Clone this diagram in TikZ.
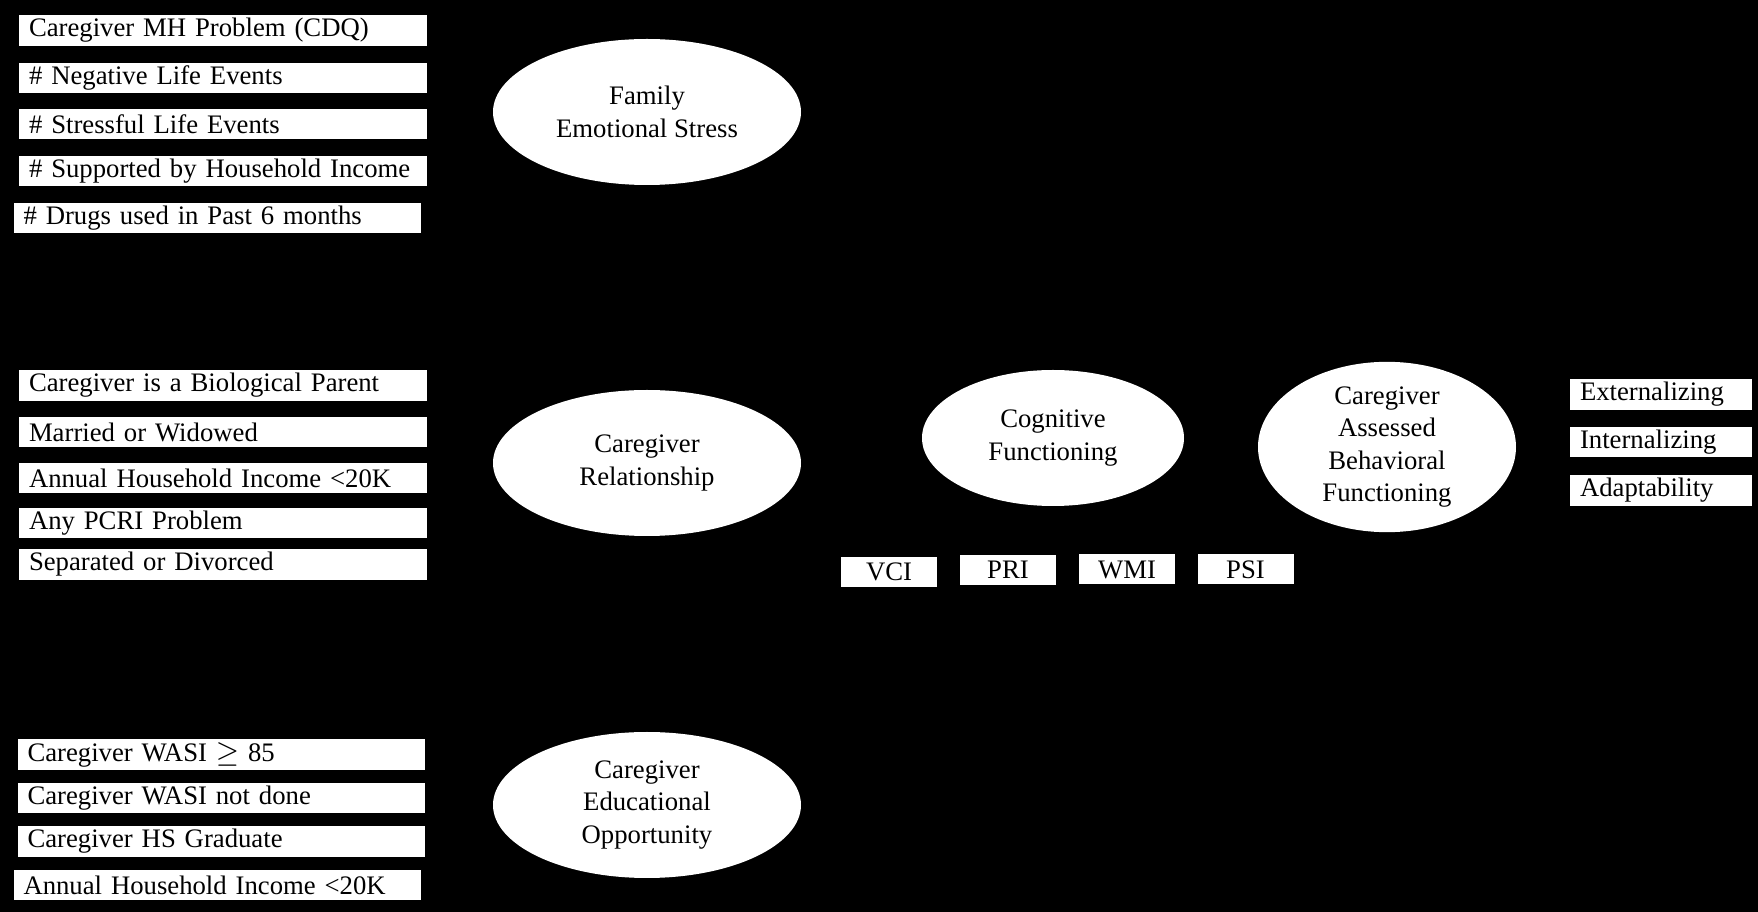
\documentclass[tikz,border=0pt]{standalone}
\usepackage{fontspec}
\setmainfont{Liberation Serif}
\usetikzlibrary{shapes.geometric}

\begin{document}
\begin{tikzpicture}[x=0.1mm, y=-0.1mm,
    font=\fontsize{7.6}{9.2}\selectfont,
    indicator/.style={rectangle, fill=boxColour, inner sep=0pt, inner xsep=1mm,
        text width=38.8mm, minimum height=3.05mm, align=left},
    outcome/.style={indicator, text width=16.2mm},
    subtest/.style={rectangle, fill=boxColour, inner sep=0pt, minimum width=9.6mm,
        minimum height=3mm, align=center},
    latent/.style={ellipse, fill=boxColour, inner sep=0pt, align=center,
        minimum width=30.8mm, minimum height=14.6mm}]
    \definecolor{bgColour}{HTML}{000000}
    \definecolor{boxColour}{HTML}{FFFFFF}

    % Background
    \fill[bgColour] (0,0) rectangle (1758,912);
    \useasboundingbox (0,0) rectangle (1758,912);

    % Family emotional stress indicators
    \foreach \n/\y/\t in {1/30.5/Caregiver MH Problem (CDQ),
            2/78/\# Negative Life Events,
            3/124/\# Stressful Life Events,
            4/171/\# Supported by Household Income}
        \node[indicator] (stress\n) at (223,\y) {\t};
    \node[indicator] (stress5) at (217.5,218) {\# Drugs used in Past 6 months};

    % Caregiver relationship indicators
    \foreach \n/\y/\t in {1/385.5/Caregiver  is a Biological Parent,
            2/432/Married  or Widowed,
            3/478/Annual  Household Income <20K,
            4/523/Any  PCRI Problem,
            5/564.5/Separated  or Divorced}
        \node[indicator] (relation\n) at (223,\y) {\t};

    % Educational opportunity indicators
    \foreach \n/\y/\t in {1/754.5/Caregiver  WASI $\geq$ 85,
            2/798/Caregiver WASI  not done,
            3/841.5/Caregiver  HS  Graduate}
        \node[indicator] (educ\n) at (221.5,\y) {\t};
    \node[indicator] (educ4) at (217.5,885) {Annual  Household Income <20K};

    % Latent factors
    \node[latent] (stress) at (647,112) {Family\\Emotional Stress};
    \node[latent] (relation) at (647,463) {Caregiver\\Relationship};
    \node[latent] (educ) at (647,805) {Caregiver\\Educational\\Opportunity};
    \node[latent, minimum width=26.2mm, minimum height=13.6mm] (cognitive) at (1053,438) {Cognitive\\Functioning};
    \node[latent, minimum width=25.8mm, minimum height=14.8mm] (behaviour) at (1387,447) {Caregiver\\Assessed\\Behavioral\\Functioning};

    % Cognitive subtests
    \node[subtest] (vci) at (889,572) {VCI};
    \node[subtest] (pri) at (1008,570) {PRI};
    \node[subtest] (wmi) at (1127,569.5) {WMI};
    \node[subtest] (psi) at (1245.5,569.5) {PSI};

    % Behaviour outcomes
    \node[outcome] (ext) at (1661,394.5) {Externalizing};
    \node[outcome] (int) at (1661,442) {Internalizing};
    \node[outcome] (adapt) at (1661,490.5) {Adaptability};

\end{tikzpicture}
\end{document}
